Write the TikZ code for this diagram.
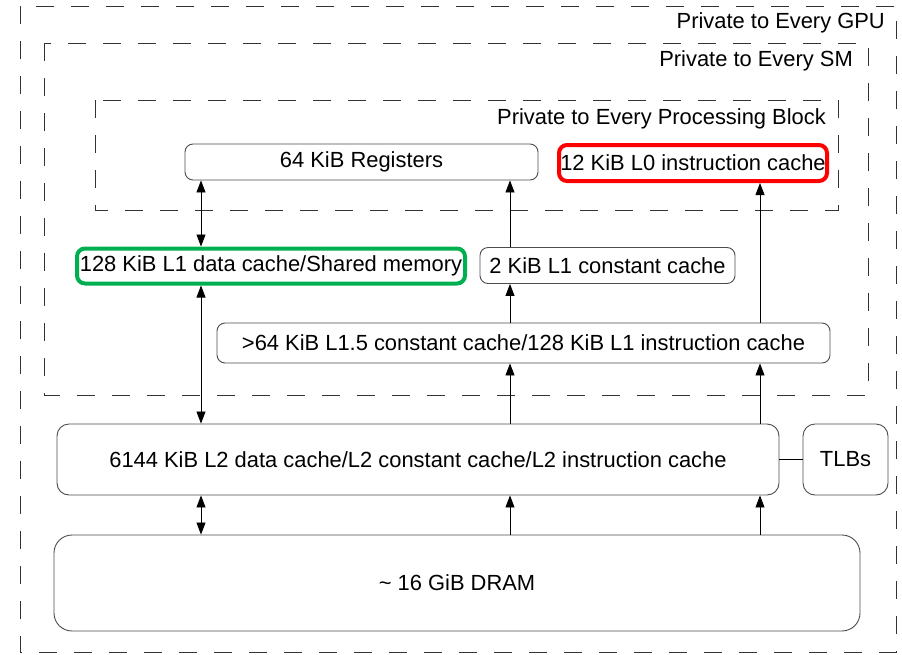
\documentclass[tikz,border=0pt]{standalone}
\usepackage{fontspec}
\setmainfont{Liberation Sans}
\usetikzlibrary{arrows.meta}
\definecolor{officegreen}{RGB}{0,176,80}
\begin{document}
\begin{tikzpicture}[x=1pt,y=-1pt,
  every node/.style={font=\fontsize{21.9}{26}\selectfont},
  box/.style={draw=black!70, line width=0.9pt, rounded corners=8pt, inner sep=1pt, align=center},
  region/.style={draw=black!80, line width=1pt, dash pattern=on 18pt off 17pt},
  lbl/.style={anchor=east, inner sep=0pt},
  tip/.style={-{Triangle[length=12pt,width=9pt]}, line width=0.8pt},
  dbl/.style={{Triangle[length=12pt,width=9pt]}-{Triangle[length=12pt,width=9pt]}, line width=0.8pt},
  plain/.style={line width=0.8pt}]
\useasboundingbox (0,0) rectangle (902,654);
% regions
\draw[region] (20,6) rectangle (896,652);
\draw[region] (44,43) rectangle (868,395);
\draw[region] (95,100) rectangle (838,210);
\node[lbl] (lgpu) at (885,23) {Private to Every GPU};
\node[lbl] (lsm) at (853,61) {Private to Every SM};
\node[lbl] (lpb) at (826,119) {Private to Every Processing Block};
% boxes
\node[box, minimum width=353pt, minimum height=36pt] (reg) at (361.5,162) {\raisebox{-2pt}{64 KiB Registers}};
\node[box, draw=red, line width=4pt, minimum width=268pt, minimum height=36pt] (l0) at (693,163) {12 KiB L0 instruction cache};
\node[box, draw=officegreen, line width=4pt, minimum width=388pt, minimum height=35pt] (l1d) at (271,266) {128 KiB L1 data cache/Shared memory};
\node[box, minimum width=255pt, minimum height=36pt] (l1c) at (607.5,265.5) {2 KiB L1 constant cache};
\node[box, minimum width=613pt, minimum height=40pt] (l15) at (523.5,343) {>64 KiB L1.5 constant cache/128 KiB L1 instruction cache};
\node[box, rounded corners=12pt, minimum width=722pt, minimum height=71pt] (l2) at (418,459.5) {6144 KiB L2 data cache/L2 constant cache/L2 instruction cache};
\node[box, rounded corners=12pt, minimum width=85pt, minimum height=71pt] (tlb) at (845.5,459.5) {TLBs};
\node[box, rounded corners=18pt, minimum width=806pt, minimum height=96pt] (dram) at (457,583) {\textasciitilde{} 16 GiB DRAM};
% arrow columns
\coordinate (ca) at (201,0);
\coordinate (cb) at (510,0);
\coordinate (cc) at (760,0);
\draw[dbl] (reg.south -| ca) -- (l1d.north -| ca);
\draw[dbl] (l1d.south -| ca) -- (l2.north -| ca);
\draw[dbl] (l2.south -| ca) -- (dram.north -| ca);
\draw[tip] (l1c.north -| cb) -- (reg.south -| cb);
\draw[tip] (l15.north -| cb) -- (l1c.south -| cb);
\draw[tip] (l2.north -| cb) -- (l15.south -| cb);
\draw[tip] (dram.north -| cb) -- (l2.south -| cb);
\draw[tip] (l15.north -| cc) -- (l0.south -| cc);
\draw[tip] (l2.north -| cc) -- (l15.south -| cc);
\draw[tip] (dram.north -| cc) -- (l2.south -| cc);
\draw[plain] (l2.east) -- (tlb.west);
\end{tikzpicture}
\end{document}
